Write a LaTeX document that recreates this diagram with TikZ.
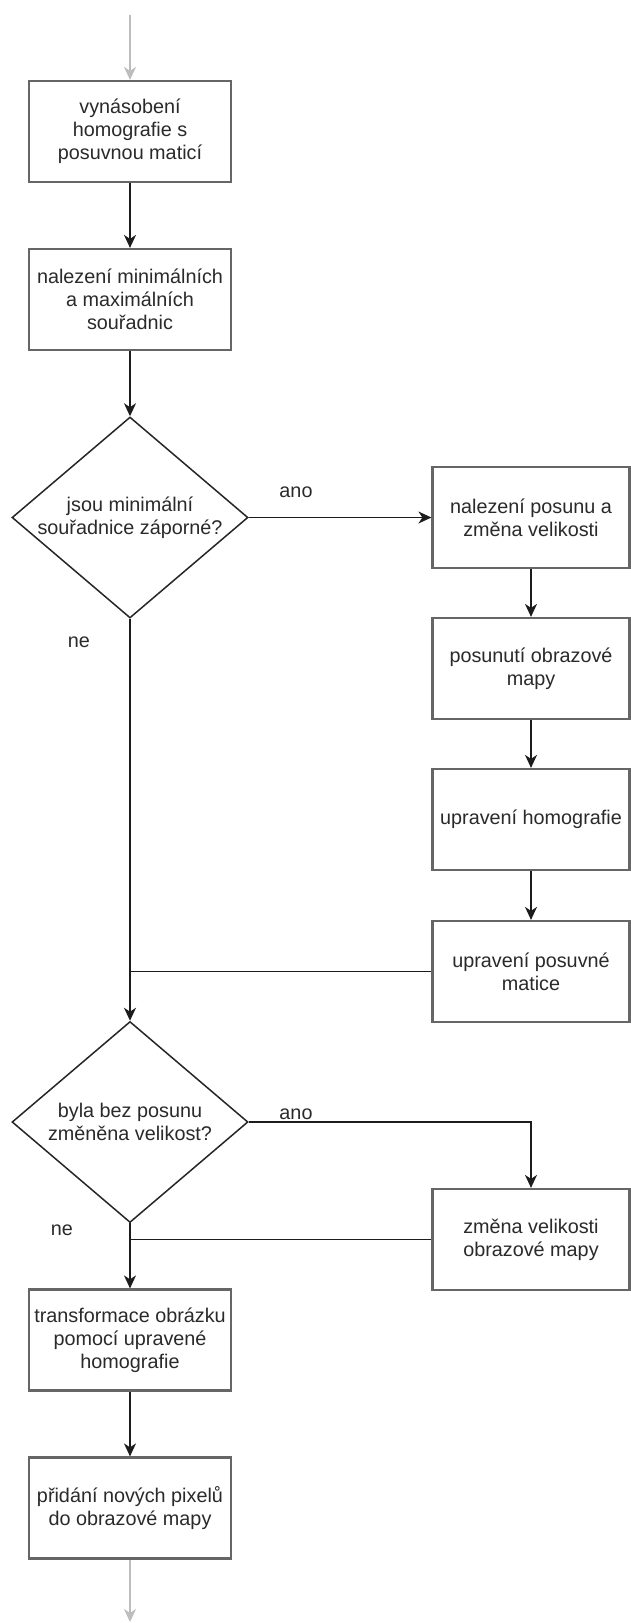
\documentclass[tikz,border=0pt]{standalone}
\usepackage{fontspec}
\setmainfont{Liberation Sans}
\usetikzlibrary{shapes.geometric,arrows.meta}
\definecolor{boxline}{HTML}{666666}
\definecolor{dialine}{HTML}{262626}
\definecolor{conn}{HTML}{1C1C1C}
\definecolor{fadegray}{HTML}{BDBDBD}
\definecolor{txt}{HTML}{2A2A2A}
\begin{document}
\begin{tikzpicture}[x=1pt,y=-1pt,
  every node/.style={font=\fontsize{19.8}{23}\selectfont, text=txt},
  procbox/.style={rectangle, draw=boxline, line width=2.2pt, fill=white,
    minimum width=202pt, minimum height=101pt, inner sep=0pt, align=center},
  sidebox/.style={procbox, minimum width=197pt},
  decide/.style={diamond, draw=dialine, line width=1.5pt, fill=white,
    minimum width=236pt, minimum height=201pt, inner sep=-12pt, align=center},
  tip/.style={-{Stealth[length=13pt,width=12pt,inset=4pt]}},
  flow/.style={draw=conn, line width=1.6pt, tip},
  plain/.style={draw=conn, line width=1.6pt},
  faded/.style={draw=fadegray, line width=1.6pt, tip},
  lbl/.style={inner sep=0pt}
]
\useasboundingbox (0,0) rectangle (630,1623);

% main column
\node[procbox] (b1) at (130,131.5) {vynásobení\\homografie s\\posuvnou maticí};
\node[procbox] (b2) at (130,299.5) {nalezení minimálních\\a maximálních\\souřadnic};
\node[decide]  (d1) at (130,517.5) {jsou minimální\\souřadnice záporné?};
\node[decide]  (d2) at (130,1122) {byla bez posunu\\změněna velikost?};
\node[procbox] (b8) at (130,1340) {transformace obrázku\\pomocí upravené\\homografie};
\node[procbox] (b9) at (130,1508) {přidání nových pixelů\\do obrazové mapy};

% side column
\node[sidebox] (b3) at (531,517.5) {nalezení posunu a\\změna velikosti};
\node[sidebox] (b4) at (531,668.5) {posunutí obrazové\\mapy};
\node[sidebox] (b5) at (531,819.5) {upravení homografie};
\node[sidebox] (b6) at (531,971.5) {upravení posuvné\\matice};
\node[sidebox] (b7) at (531,1239.5) {změna velikosti\\obrazové mapy};

% branch labels
\node[lbl] (ano1) at (296,492) {ano};
\node[lbl] (ne1)  at (79,642)  {ne};
\node[lbl] (ano2) at (296,1114) {ano};
\node[lbl] (ne2)  at (62,1230) {ne};

% loose ends
\coordinate (in)  at (130,15);
\coordinate (out) at (130,1622);

% connectors
\draw[faded] (in) -- (b1.north);
\draw[flow] (b1) -- (b2);
\draw[flow] (b2) -- (d1.north);
\draw[flow] (d1.east) -- (b3.west);
\draw[flow] (b3) -- (b4);
\draw[flow] (b4) -- (b5);
\draw[flow] (b5) -- (b6);
\draw[flow] (d1.south) -- (d2.north);
\draw[plain] (b6.west) -- (b6.west -| d1.south);
\draw[flow] (d2.east) -| (b7.north);
\draw[flow] (d2.south) -- (b8.north);
\draw[plain] (b7.west) -- (b7.west -| d2.south);
\draw[flow] (b8) -- (b9);
\draw[faded] (b9.south) -- (out);
\end{tikzpicture}
\end{document}
